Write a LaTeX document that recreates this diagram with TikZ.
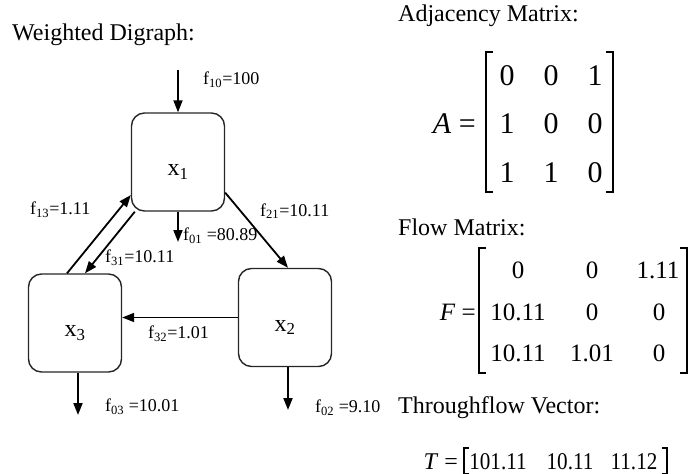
\documentclass[tikz,border=0pt]{standalone}
\usepackage{fontspec}
\setmainfont{Liberation Serif}
\usetikzlibrary{arrows.meta}
\begin{document}
\begin{tikzpicture}[x=1pt,y=-1pt,
  box/.style={draw=black!85,line width=1.4pt,rounded corners=13pt,minimum width=93pt,minimum height=98pt,inner sep=0pt,text height=27pt,text depth=0pt,font=\fontsize{24}{28}\selectfont},
  flow/.style={line width=1.8pt,-{Triangle[length=12pt,width=9pt]}},
  lab/.style={font=\fontsize{18}{20}\selectfont,inner sep=0pt,anchor=west},
  head/.style={font=\fontsize{24}{28}\selectfont,inner sep=0pt,anchor=west},
  amat/.style={font=\fontsize{30}{34}\selectfont,inner sep=0pt},
  fmat/.style={font=\fontsize{25}{30}\selectfont,inner sep=0pt},
  tvec/.style={font=\fontsize{24}{28}\selectfont,inner sep=0pt},
  brk/.style={line width=1.8pt}]
\useasboundingbox (0,0) rectangle (689,474);

% headings
\node[head] (h1) at (12,35) {Weighted Digraph:};
\node[head] (h2) at (398,16) {Adjacency Matrix:};
\node[head] (h3) at (398,227.5) {Flow Matrix:};
\node[head] (h4) at (398,408) {Throughflow Vector:};

% graph boxes
\node[box] (x1) at (178,162) {x\textsubscript{1}};
\node[box] (x3) at (75,323) {x\textsubscript{3}};
\node[box] (x2) at (285,317.5) {x\textsubscript{2}};

% free ends
\coordinate (in1) at (178,70);
\coordinate (out1) at (178,242);
\coordinate (out3) at (78,415);
\coordinate (out2) at (288,410);

% connectors
\draw[flow] (in1) -- (x1.north);
\draw[flow] (x1.south) -- (out1);
\draw[flow] (x1.-33) -- ([xshift=3pt]x2.north);
\draw[flow] ([xshift=-8pt]x3.north) -- (x1.215);
\draw[flow] ([xshift=4pt]x1.south west) -- ([xshift=10pt]x3.north);
\draw[flow] (x2.west) -- (x3.east |- x2.west);
\draw[flow] ([xshift=3pt]x3.south) -- (out3);
\draw[flow] ([xshift=3pt]x2.south) -- (out2);

% labels
\node[lab] (l10) at (203,80) {f\textsubscript{10}=100};
\node[lab] (l01) at (183,236) {f\textsubscript{01} =80.89};
\node[lab] (l21) at (260,211) {f\textsubscript{21}=10.11};
\node[lab] (l13) at (30,210) {f\textsubscript{13}=1.11};
\node[lab] (l31) at (105,258) {f\textsubscript{31}=10.11};
\node[lab] (l32) at (148,334) {f\textsubscript{32}=1.01};
\node[lab] (l03) at (105,407) {f\textsubscript{03} =10.01};
\node[lab] (l02) at (315,408) {f\textsubscript{02} =9.10};

% adjacency matrix
\node[amat,anchor=east] (aeq) at (476,124) {\textit{A} =};
\node[amat] (a11) at (507,76) {0};
\node[amat] (a12) at (551,76) {0};
\node[amat] (a13) at (595,76) {1};
\node[amat] (a21) at (507,124) {1};
\node[amat] (a22) at (551,124) {0};
\node[amat] (a23) at (595,124) {0};
\node[amat] (a31) at (507,173) {1};
\node[amat] (a32) at (551,173) {1};
\node[amat] (a33) at (595,173) {0};
\draw[brk] (493,52) -- (486,52) -- (486,192) -- (493,192);
\draw[brk] (606,52) -- (613,52) -- (613,192) -- (606,192);

% flow matrix
\node[fmat,anchor=east] (feq) at (476,312) {\textit{F} =};
\node[fmat] (f11) at (518,270) {0};
\node[fmat] (f12) at (592,270) {0};
\node[fmat] (f13) at (658,270) {1.11};
\node[fmat] (f21) at (518,312) {10.11};
\node[fmat] (f22) at (592,312) {0};
\node[fmat] (f23) at (659,312) {0};
\node[fmat] (f31) at (518,353) {10.11};
\node[fmat] (f32) at (592,353) {1.01};
\node[fmat] (f33) at (659,353) {0};
\draw[brk] (486,248) -- (479,248) -- (479,373) -- (486,373);
\draw[brk] (680,248) -- (687,248) -- (687,373) -- (680,373);

% throughflow vector
\node[tvec,anchor=east] (teq) at (458,462) {\textit{T} =};
\node[tvec] (t1) at (498,462) {\scalebox{0.88}[1]{101.11}};
\node[tvec] (t2) at (570,462) {\scalebox{0.88}[1]{10.11}};
\node[tvec] (t3) at (634,462) {\scalebox{0.88}[1]{11.12}};
\draw[brk] (469,448) -- (464,448) -- (464,474) -- (469,474);
\draw[brk] (662,448) -- (667,448) -- (667,474) -- (662,474);
\end{tikzpicture}
\end{document}
